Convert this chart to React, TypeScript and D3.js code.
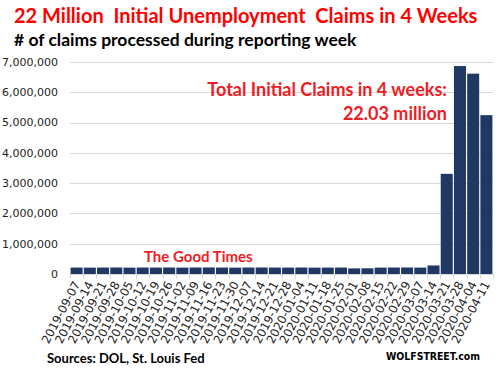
import * as React from 'react';
import * as d3 from 'd3';

const weeks = [
  '2019-09-07', '2019-09-14', '2019-09-21', '2019-09-28', '2019-10-05', '2019-10-12',
  '2019-10-19', '2019-10-26', '2019-11-02', '2019-11-09', '2019-11-16', '2019-11-23',
  '2019-11-30', '2019-12-07', '2019-12-14', '2019-12-21', '2019-12-28', '2020-01-04',
  '2020-01-11', '2020-01-18', '2020-01-25', '2020-02-01', '2020-02-08', '2020-02-15',
  '2020-02-22', '2020-02-29', '2020-03-07', '2020-03-14', '2020-03-21', '2020-03-28',
  '2020-04-04', '2020-04-11',
];
const claims = [
  212000, 210000, 213000, 215000, 210000, 214000, 212000, 215000, 211000, 215000,
  216000, 213000, 210000, 214000, 215000, 213000, 212000, 214000, 210000, 211000,
  212000, 185000, 188000, 211000, 214000, 215000, 211000, 282000, 3307000, 6867000,
  6615000, 5245000,
];
const yTicks = [0, 1000000, 2000000, 3000000, 4000000, 5000000, 6000000, 7000000];

const W = 501;
const H = 371;
const margin = { top: 62, right: 8, bottom: 97, left: 70 };
const RED = '#ff0000';
const NOTE_RED = '#ee1c25';
const BAR = '#203864';
const TEXT_FONT = 'Lato, "Open Sans", sans-serif';
const AXIS_FONT = '"DejaVu Sans", Verdana, sans-serif';

export default function App() {
  const ref = React.useRef<SVGSVGElement>(null);

  React.useEffect(() => {
    const el = ref.current;
    if (!el) { return; }
    el.innerHTML = '';
    const svg = d3.select(el);
    const width = W - margin.left - margin.right;
    const height = H - margin.top - margin.bottom;

    const x = d3.scaleBand().domain(weeks).range([0, width]).paddingInner(0.09).paddingOuter(0.045);
    const y = d3.scaleLinear().domain([0, 7000000]).range([height, 0]);

    const g = svg.append('g').attr('transform', `translate(${margin.left},${margin.top})`);

    // gridlines
    g.append('g')
      .selectAll('line')
      .data(yTicks.slice(1))
      .enter().append('line')
        .attr('x1', 0).attr('x2', width)
        .attr('y1', d => Math.round(y(d)) + 0.5).attr('y2', d => Math.round(y(d)) + 0.5)
        .attr('stroke', '#d9d9d9').attr('stroke-width', 1);

    // y labels
    g.append('g')
      .selectAll('text')
      .data(yTicks)
      .enter().append('text')
        .attr('x', -12)
        .attr('y', d => y(d))
        .attr('dy', '0.35em')
        .attr('text-anchor', 'end')
        .attr('font-family', AXIS_FONT)
        .attr('font-size', 11)
        .attr('fill', '#222')
        .text(d => d3.format(',')(d));

    // bars
    g.append('g')
      .selectAll('rect')
      .data(claims)
      .enter().append('rect')
        .attr('x', (_, i) => x(weeks[i])!)
        .attr('y', d => y(d))
        .attr('width', x.bandwidth())
        .attr('height', d => height - y(d))
        .attr('fill', BAR);

    // x axis line and ticks at band boundaries
    const edges = d3.range(weeks.length + 1).map(i => i * (width / weeks.length));
    g.append('line')
      .attr('x1', 0).attr('x2', width)
      .attr('y1', height + 0.5).attr('y2', height + 0.5)
      .attr('stroke', '#d9d9d9');
    g.append('g')
      .selectAll('line')
      .data(edges)
      .enter().append('line')
        .attr('x1', d => Math.round(d) + 0.5).attr('x2', d => Math.round(d) + 0.5)
        .attr('y1', height).attr('y2', height + 5)
        .attr('stroke', '#d9d9d9');

    // x labels
    g.append('g')
      .selectAll('text')
      .data(weeks)
      .enter().append('text')
        .attr('transform', d => `translate(${x(d)! + x.bandwidth() / 2 + 4},${height + 10}) rotate(-62)`)
        .attr('text-anchor', 'end')
        .attr('font-family', AXIS_FONT)
        .attr('font-size', 11.8)
        .attr('fill', '#222')
        .text(d => d);

    // titles & annotations
    svg.append('text')
      .attr('x', 14).attr('y', 23)
      .attr('font-family', TEXT_FONT).attr('font-weight', 'bold')
      .attr('font-size', 20).attr('fill', RED)
      .attr('xml:space', 'preserve')
      .text('22 Million  Initial Unemployment  Claims in 4 Weeks');
    svg.append('text')
      .attr('x', 14).attr('y', 46)
      .attr('font-family', TEXT_FONT).attr('font-weight', 'bold')
      .attr('font-size', 17.5).attr('fill', '#000')
      .text('# of claims processed during reporting week');
    svg.append('text')
      .attr('x', 447).attr('y', 96)
      .attr('text-anchor', 'end')
      .attr('font-family', TEXT_FONT).attr('font-weight', 'bold')
      .attr('font-size', 18).attr('fill', NOTE_RED)
      .text('Total Initial Claims in 4 weeks:');
    svg.append('text')
      .attr('x', 447).attr('y', 120)
      .attr('text-anchor', 'end')
      .attr('font-family', TEXT_FONT).attr('font-weight', 'bold')
      .attr('font-size', 18).attr('fill', NOTE_RED)
      .text('22.03 million');
    svg.append('text')
      .attr('x', 144).attr('y', 262)
      .attr('font-family', TEXT_FONT).attr('font-weight', 'bold')
      .attr('font-size', 15).attr('fill', NOTE_RED)
      .text('The Good Times');
    svg.append('text')
      .attr('x', 47).attr('y', 363)
      .attr('font-family', TEXT_FONT).attr('font-weight', 'bold')
      .attr('font-size', 13).attr('fill', '#000')
      .text('Sources: DOL, St. Louis Fed');
    svg.append('text')
      .attr('x', 386).attr('y', 360)
      .attr('font-family', AXIS_FONT).attr('font-weight', 'bold')
      .attr('font-size', 11)
      .attr('textLength', 94).attr('lengthAdjust', 'spacingAndGlyphs')
      .attr('fill', '#000')
      .text('WOLFSTREET.com');
  }, []);

  return (
    <svg ref={ref} width={W} height={H} style={{ position: 'absolute', left: 0, top: 0, background: '#fff' }} />
  );
}
